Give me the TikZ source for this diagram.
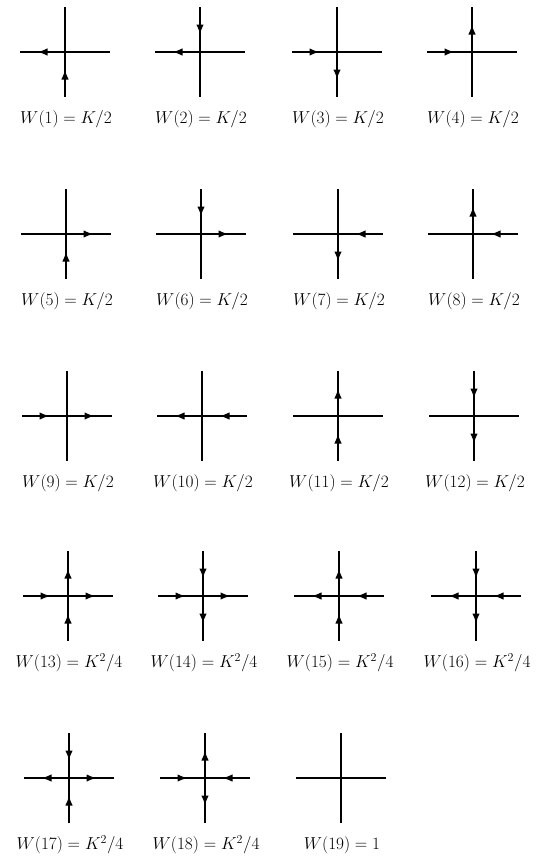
\documentclass[tikz,border=0pt]{standalone}
\usetikzlibrary{arrows.meta,decorations.markings}
\tikzset{
    arm/.style={line width=1.6pt},
    flow/.style={arm, postaction={decorate}, decoration={markings, mark=at position 0.5 with {\arrow[xshift=5pt]{Latex[length=10pt,width=7.5pt]}}}},
    weight/.style={font=\fontsize{17}{20}\selectfont}
}
\begin{document}
\begin{tikzpicture}[x=1pt, y=-1pt]
        \useasboundingbox (0,0) rectangle (537,857);

        \foreach \i/\x/\y/\w in {1/65/52/{K/2}, 2/200/52/{K/2}, 3/337/52/{K/2}, 4/472/52/{K/2},
                5/66/234/{K/2}, 6/201/234/{K/2}, 7/338/234/{K/2}, 8/473/234/{K/2},
                9/67/416/{K/2}, 10/202/416/{K/2}, 11/338/416/{K/2}, 12/474/416/{K/2},
                13/68/596/{K^2/4}, 14/203/596/{K^2/4}, 15/339/596/{K^2/4}, 16/476/596/{K^2/4},
                17/69/778/{K^2/4}, 18/205/778/{K^2/4}, 19/341/778/{1}}
        {
            \coordinate (\i) at (\x,\y);
            \coordinate (\i-w) at (\x-45,\y);
            \coordinate (\i-e) at (\x+45,\y);
            \coordinate (\i-n) at (\x,\y-45);
            \coordinate (\i-s) at (\x,\y+45);
            \draw[arm] (\i-w) -- (\i-e);
            \draw[arm] (\i-n) -- (\i-s);
            \node (w\i) at (\x+1,\y+67) [weight] {$W(\i) = \w$};
        }

        \foreach \a/\b in {1/1-w, 1-s/1, 2-n/2, 2/2-w, 3-w/3, 3/3-s, 4-w/4, 4/4-n,
                5/5-e, 5-s/5, 6-n/6, 6/6-e, 7-e/7, 7/7-s, 8-e/8, 8/8-n,
                9-w/9, 9/9-e, 10/10-w, 10-e/10, 11-s/11, 11/11-n, 12-n/12, 12/12-s,
                13-w/13, 13/13-e, 13-s/13, 13/13-n, 14-w/14, 14/14-e, 14-n/14, 14/14-s,
                15/15-w, 15-e/15, 15-s/15, 15/15-n, 16/16-w, 16-e/16, 16-n/16, 16/16-s,
                17/17-w, 17/17-e, 17-n/17, 17-s/17, 18-w/18, 18-e/18, 18/18-n, 18/18-s}
            \draw[flow] (\a) -- (\b);

\end{tikzpicture}
\end{document}
